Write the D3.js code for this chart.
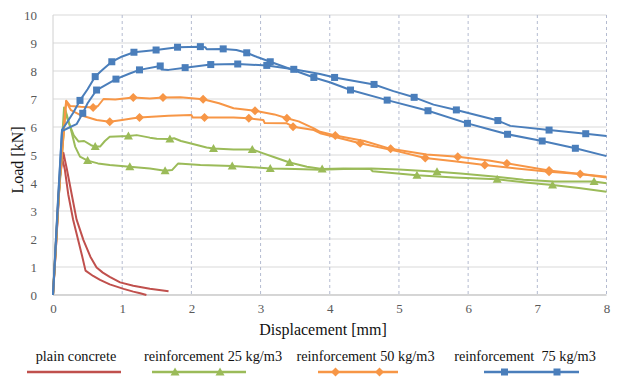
<!DOCTYPE html>
<html><head><meta charset="utf-8">
<script src="https://cdn.jsdelivr.net/npm/d3@7"></script>
<style>
body{margin:0;background:#fff;}
svg{display:block;}
svg text{font-family:"Liberation Serif","Times New Roman",serif !important;}
</style></head>
<body>
<svg id="chart" width="640" height="385"></svg>
<script>
// ---- data: [displacement mm, load kN, marker flag] ----
const seriesNames = ["plain concrete", "reinforcement 25 kg/m3", "reinforcement 50 kg/m3", "reinforcement  75 kg/m3"];
const xTicks = [0,1,2,3,4,5,6,7,8];
const yTicks = [0,1,2,3,4,5,6,7,8,9,10];

const plainA = [[0,0],[0.05,2.0],[0.1,4.2],[0.15,5.08],[0.2,4.5],[0.27,3.6],[0.34,2.7],[0.44,1.96],[0.54,1.37],[0.63,0.98],[0.72,0.8],[0.82,0.65],[0.97,0.45],[1.16,0.33],[1.4,0.22],[1.67,0.13]];
const plainB = [[0,0],[0.04,1.6],[0.08,3.4],[0.12,5.0],[0.17,4.5],[0.22,3.6],[0.29,2.7],[0.36,2.0],[0.42,1.4],[0.47,0.87],[0.58,0.68],[0.68,0.54],[0.82,0.38],[1.02,0.22],[1.16,0.12],[1.26,0.06],[1.35,0.0]];

const r25A = [[0,0],[0.08,3.5],[0.16,6.7],[0.22,6.2],[0.3,5.7],[0.37,5.48],[0.45,5.5],[0.55,5.35],[0.61,5.3,1],[0.68,5.3],[0.75,5.5],[0.82,5.65],[1.09,5.68,1],[1.21,5.71],[1.4,5.62],[1.5,5.58],[1.69,5.57,1],[1.75,5.6],[1.85,5.5],[1.98,5.42],[2.22,5.27],[2.32,5.23,1],[2.61,5.2],[2.88,5.2,1],[3.04,5.06],[3.2,4.92],[3.42,4.73,1],[3.67,4.58],[3.89,4.5,1],[4.2,4.52],[4.59,4.5],[4.62,4.42],[5.26,4.28,1],[5.8,4.2],[6.42,4.13,1],[6.9,4.0],[7.22,3.93,1],[7.6,3.82],[8.0,3.69]];
const r25B = [[0,0],[0.08,3.4],[0.18,6.6],[0.25,6.0],[0.32,5.3],[0.39,4.94],[0.5,4.8,1],[0.65,4.7],[0.82,4.64],[1.11,4.58,1],[1.4,4.52],[1.62,4.44,1],[1.72,4.46],[1.81,4.7],[2.13,4.64],[2.59,4.61,1],[3.14,4.52,1],[3.5,4.5],[3.86,4.47],[4.2,4.5],[4.6,4.52],[5.0,4.48],[5.55,4.4,1],[5.89,4.34],[6.37,4.23],[6.8,4.12],[7.24,4.05],[7.82,4.05,1],[8.0,3.99]];

const r50A = [[0,0],[0.08,3.6],[0.19,6.94],[0.25,6.75],[0.4,6.72],[0.58,6.7,1],[0.65,6.75],[0.73,7.0],[0.9,6.98],[1.16,7.05,1],[1.4,7.02],[1.59,7.05,1],[1.84,7.06],[2.17,6.99,1],[2.4,6.85],[2.61,6.67],[2.92,6.58,1],[3.2,6.45],[3.38,6.31,1],[3.55,6.2],[3.77,5.95],[3.86,5.83],[4.08,5.7,1],[4.5,5.5],[4.88,5.22,1],[5.4,5.02],[5.85,4.94,1],[6.3,4.8],[6.56,4.7,1],[7.17,4.45,1],[7.62,4.32],[8.0,4.2]];
const r50B = [[0,0],[0.08,3.5],[0.19,6.9],[0.26,6.6],[0.39,6.43],[0.63,6.25],[0.82,6.19,1],[1.0,6.25],[1.16,6.31],[1.25,6.34,1],[1.67,6.4],[2.0,6.43],[2.02,6.34],[2.19,6.34,1],[2.61,6.34],[2.83,6.31,1],[3.04,6.25],[3.06,6.14],[3.38,6.13],[3.47,6.01,1],[3.77,5.89],[3.86,5.78],[4.44,5.42,1],[5.0,5.12],[5.38,4.89,1],[5.8,4.78],[6.24,4.64,1],[6.7,4.52],[7.17,4.4,1],[7.62,4.32,1],[8.0,4.22]];

const r75A = [[0,0],[0.07,3.3],[0.13,5.9],[0.2,6.15],[0.29,6.5],[0.39,6.95,1],[0.5,7.35],[0.61,7.8,1],[0.72,8.05],[0.85,8.33,1],[1.0,8.52],[1.17,8.67,1],[1.49,8.75,1],[1.8,8.85,1],[2.13,8.87,1],[2.2,8.85],[2.22,8.78],[2.46,8.79,1],[2.65,8.75],[2.8,8.65,1],[2.95,8.5],[3.14,8.33,1],[3.4,8.1],[3.77,7.77,1],[4.0,7.6],[4.3,7.32,1],[4.83,6.96,1],[5.42,6.58,1],[5.99,6.13,1],[6.3,5.92],[6.57,5.74,1],[7.07,5.5,1],[7.55,5.24,1],[8.0,4.96]];
const r75B = [[0,0],[0.07,3.2],[0.13,5.85],[0.25,6.0],[0.34,6.1],[0.43,6.49,1],[0.5,6.85],[0.63,7.32,1],[0.91,7.71,1],[1.1,7.9],[1.25,8.04,1],[1.55,8.18,1],[1.57,8.05],[1.67,8.04],[1.91,8.12,1],[2.28,8.23,1],[2.67,8.25,1],[3.09,8.2,1],[3.48,8.06,1],[3.86,7.89],[4.07,7.77,1],[4.64,7.52,1],[4.92,7.28],[5.22,7.06,1],[5.5,6.8],[5.83,6.61,1],[6.43,6.23,1],[6.61,6.04],[7.17,5.89,1],[7.7,5.76,1],[8.0,5.68]];

const groups = [
  {name: seriesNames[0], color: "#C0504D", marker: null, curves: [plainA, plainB]},
  {name: seriesNames[1], color: "#9BBB59", marker: "triangle", curves: [r25A, r25B]},
  {name: seriesNames[2], color: "#F79646", marker: "diamond", curves: [r50A, r50B]},
  {name: seriesNames[3], color: "#4A7EBB", marker: "square", curves: [r75A, r75B]}
];

// ---- layout ----
const FONT = "'Liberation Serif', 'Times New Roman', serif";
const svg = d3.select("#chart");
const L = 53, R = 606.5, T = 15, B = 295;
const x = d3.scaleLinear().domain([0,8]).range([L,R]);
const y = d3.scaleLinear().domain([0,10]).range([B,T]);

// horizontal gridlines
svg.append("g").selectAll("line").data(yTicks).join("line")
  .attr("x1", L).attr("x2", R).attr("y1", d=>y(d)).attr("y2", d=>y(d))
  .attr("stroke", "#D9D9D9").attr("stroke-width", 1);
// vertical dashed gridlines
svg.append("g").selectAll("line").data(xTicks.filter(d=>d>0)).join("line")
  .attr("x1", d=>x(d)).attr("x2", d=>x(d)).attr("y1", T).attr("y2", B)
  .attr("stroke", "#B4BBD0").attr("stroke-width", 1).attr("stroke-dasharray", "3,3");
// axes lines
svg.append("line").attr("x1", L).attr("x2", L).attr("y1", T).attr("y2", B).attr("stroke", "#D0D0D0");
svg.append("line").attr("x1", L).attr("x2", R).attr("y1", B).attr("y2", B).attr("stroke", "#BFBFBF");

// axes via d3
const yAxis = svg.append("g").attr("transform", `translate(${L},0)`)
  .call(d3.axisLeft(y).tickValues(yTicks).tickSize(0).tickPadding(16).tickFormat(d3.format("d")));
const xAxis = svg.append("g").attr("transform", `translate(0,${B})`)
  .call(d3.axisBottom(x).tickValues(xTicks).tickSize(0).tickPadding(9).tickFormat(d3.format("d")));
[yAxis, xAxis].forEach(a => {
  a.select(".domain").remove();
  a.attr("font-family", FONT).attr("font-size", 13);
  a.selectAll("text").style("font-family", FONT).attr("fill", "#595959");
});

// titles
svg.append("text").attr("transform", "translate(23,160) rotate(-90)")
  .attr("text-anchor", "middle").style("font-family", FONT).attr("font-size", 16).attr("fill", "#111").text("Load [kN]");
svg.append("text").attr("x", 323).attr("y", 335)
  .attr("text-anchor", "middle").style("font-family", FONT).attr("font-size", 16).attr("fill", "#111").text("Displacement [mm]");

// marker drawing
function drawMarker(sel, type, color, cx, cy) {
  if (type === "square") {
    sel.append("rect").attr("x", cx-3.5).attr("y", cy-3.5).attr("width", 7).attr("height", 7).attr("fill", color);
  } else if (type === "diamond") {
    sel.append("path").attr("d", `M${cx},${cy-4.5}L${cx+4.5},${cy}L${cx},${cy+4.5}L${cx-4.5},${cy}Z`).attr("fill", color);
  } else if (type === "triangle") {
    sel.append("path").attr("d", `M${cx},${cy-4.5}L${cx+4.5},${cy+3.5}L${cx-4.5},${cy+3.5}Z`).attr("fill", color);
  }
}

const line = d3.line().x(d=>x(d[0])).y(d=>y(d[1]));
const plot = svg.append("g");
groups.forEach(g => {
  g.curves.forEach(c => {
    plot.append("path").datum(c).attr("d", line).attr("fill", "none")
      .attr("stroke", g.color).attr("stroke-width", 2).attr("stroke-linejoin", "round");
    if (g.marker) {
      c.filter(d => d[2]).forEach(d => drawMarker(plot, g.marker, g.color, x(d[0]), y(d[1])));
    }
  });
});

// legend
const legendItems = [
  {tx: 76, x1: 27, x2: 121, m: []},
  {tx: 213, x1: 152, x2: 246, m: [175, 220]},
  {tx: 365.5, x1: 318, x2: 398, m: [335.5, 379.5]},
  {tx: 525, x1: 484, x2: 579, m: [504.5, 557]}
];
const lg = svg.append("g");
groups.forEach((g, i) => {
  const it = legendItems[i];
  lg.append("text").attr("x", it.tx).attr("y", 361).attr("text-anchor", "middle")
    .style("font-family", FONT).attr("font-size", 14.3).attr("fill", "#111").style("white-space", "pre").text(g.name);
  lg.append("line").attr("x1", it.x1).attr("x2", it.x2).attr("y1", 372).attr("y2", 372)
    .attr("stroke", g.color).attr("stroke-width", 2.5);
  it.m.forEach(mx => drawMarker(lg, g.marker, g.color, mx, 372));
});
</script>
</body></html>
